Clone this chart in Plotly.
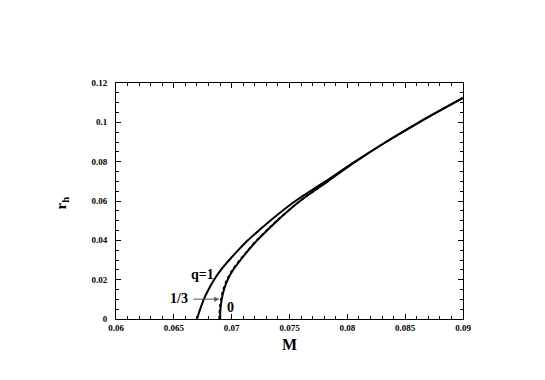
import plotly.graph_objects as go

# q = 0 curve (solid)
r_q0 = [0.0, 0.005, 0.01, 0.015, 0.02, 0.025, 0.03, 0.035, 0.04, 0.045, 0.05, 0.06, 0.07, 0.08, 0.09, 0.10, 0.1124]
M_q0 = [0.0690, 0.06903, 0.06914, 0.06934, 0.06966, 0.07013, 0.07076, 0.07145, 0.0722, 0.07305, 0.07393,
        0.07591, 0.07831, 0.08071, 0.08334, 0.0862, 0.0900]

# q = 1 curve (solid)
r_q1 = [0.0, 0.005, 0.01, 0.015, 0.02, 0.025, 0.03, 0.035, 0.04, 0.045, 0.05, 0.06, 0.07, 0.08, 0.09, 0.10, 0.1124]
M_q1 = [0.0670, 0.06728, 0.06759, 0.06800, 0.06848, 0.06907, 0.06979, 0.07057, 0.0714, 0.07235, 0.07333,
        0.07551, 0.07811, 0.08066, 0.08334, 0.0862, 0.0900]

# q = 1/3 curve (dotted)
r_q13 = [0.0, 0.005, 0.01, 0.015, 0.02, 0.025, 0.03, 0.035, 0.04, 0.045, 0.05, 0.06, 0.07]
M_q13 = [0.06894, 0.06897, 0.06908, 0.06928, 0.06960, 0.07007, 0.07071, 0.07141, 0.07217, 0.07303, 0.07391,
         0.0759, 0.0783]

x_ticks = [0.06, 0.065, 0.07, 0.075, 0.08, 0.085, 0.09]
x_ticktext = ["0.06", "0.065", "0.07", "0.075", "0.08", "0.085", "0.09"]
y_ticks = [0, 0.02, 0.04, 0.06, 0.08, 0.1, 0.12]
y_ticktext = ["0", "0.02", "0.04", "0.06", "0.08", "0.1", "0.12"]

FONT = "Liberation Serif"

fig = go.Figure()
fig.add_trace(go.Scatter(x=M_q1, y=r_q1, mode="lines",
                         line=dict(color="black", width=2, shape="spline", smoothing=0.8), showlegend=False))
fig.add_trace(go.Scatter(x=M_q0, y=r_q0, mode="lines",
                         line=dict(color="black", width=2, shape="spline", smoothing=0.8), showlegend=False))
fig.add_trace(go.Scatter(x=M_q13, y=r_q13, mode="lines",
                         line=dict(color="black", width=2, dash="dot", shape="spline", smoothing=0.8), showlegend=False))

axis_common = dict(
    showgrid=False, zeroline=False, showline=True, linecolor="black", linewidth=1,
    mirror="ticks", ticks="inside", ticklen=5, tickcolor="black", tickwidth=1,
    tickfont=dict(family=FONT, size=9, color="black", weight="bold"),
)

fig.update_xaxes(range=[0.06, 0.09], tickvals=x_ticks, ticktext=x_ticktext,
                 minor=dict(ticks="inside", dtick=0.001, tick0=0.06, ticklen=3, tickcolor="black"),
                 **axis_common)
fig.update_yaxes(range=[0, 0.12], tickvals=y_ticks, ticktext=y_ticktext, ticklabelstandoff=6,
                 minor=dict(ticks="inside", dtick=0.005, tick0=0, ticklen=3, tickcolor="black"),
                 **axis_common)

annot_font = dict(family=FONT, size=14, color="black", weight="bold")
fig.add_annotation(x=0.06745, y=0.0228, xref="x", yref="y", text="q=1", showarrow=False, font=annot_font)
fig.add_annotation(x=0.0699, y=0.0056, xref="x", yref="y", text="0", showarrow=False, font=annot_font)
fig.add_annotation(x=0.06892, y=0.0101, xref="x", yref="y", ax=0.06657, ay=0.0101, axref="x", ayref="y",
                   text="", showarrow=True, arrowhead=2, arrowsize=1, arrowwidth=1, arrowcolor="#555555")
fig.add_annotation(x=0.06545, y=0.0104, xref="x", yref="y", text="1/3", showarrow=False, font=annot_font)

fig.add_annotation(x=0.501, y=-0.108, xref="paper", yref="paper", text="M", showarrow=False,
                   xanchor="center", yanchor="middle",
                   font=dict(family=FONT, size=16, color="black", weight="bold"))
fig.add_annotation(x=-0.156, y=0.493, xref="paper", yref="paper", text="r<sub>h</sub>", showarrow=False, textangle=-90,
                   xanchor="center", yanchor="middle",
                   font=dict(family=FONT, size=15, color="black", weight="bold"))

fig.update_layout(
    width=545, height=380,
    margin=dict(l=108, r=90, t=75, b=68.5),
    paper_bgcolor="white", plot_bgcolor="white",
    showlegend=False,
)

fig.write_html("out.html")
